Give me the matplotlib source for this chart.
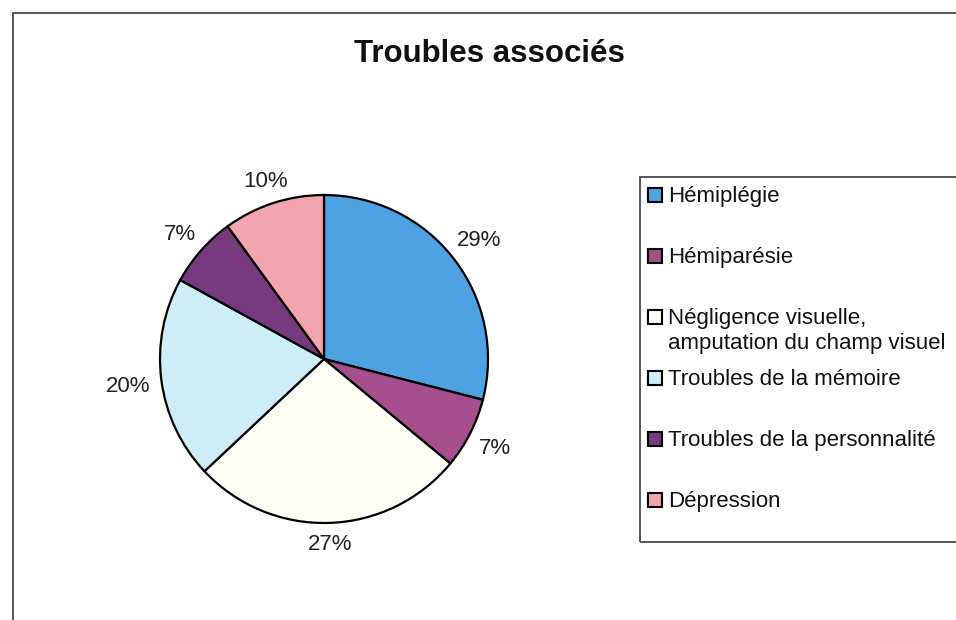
import numpy as np
import matplotlib.pyplot as plt
from matplotlib.patches import Rectangle

categories = ["Hémiplégie", "Hémiparésie",
              "Négligence visuelle,\namputation du champ visuel",
              "Troubles de la mémoire", "Troubles de la personnalité",
              "Dépression"]
values = [29, 7, 27, 20, 7, 10]
colors = ["#4FA2E2", "#A64E8E", "#FFFFF6", "#CDEEF6", "#773A7E", "#F2A5AF"]

plt.rcParams['font.family'] = ['Liberation Sans', 'DejaVu Sans']

W, H = 956, 620
fig = plt.figure(figsize=(W/100, H/100), dpi=100)

def fx(px):
    return px / W

def fy(py):
    return 1 - py / H

# chart frame (cut off on the right and bottom)
fig.patches.append(Rectangle((fx(13), -0.05), 1.1, fy(13) + 0.05,
                             transform=fig.transFigure, fill=False,
                             edgecolor="#555555", linewidth=1.4))

fig.text(fx(489), fy(62), "Troubles associés", ha="center", va="baseline",
         fontsize=22.5, fontweight="bold", color="#111111")

cx, cy, r = 324, 359, 164
ax = fig.add_axes([fx(cx - r), fy(cy + r), 2*r/W, 2*r/H])
wedges, texts, autotexts = ax.pie(values, colors=colors, startangle=90, counterclock=False,
                                  autopct='%.0f%%', pctdistance=1.15,
                                  wedgeprops=dict(edgecolor="black", linewidth=1.6),
                                  textprops=dict(fontsize=16, color="#222222"))
ax.set_xlim(-1, 1)
ax.set_ylim(-1, 1)
ax.set_aspect('equal')

# put labels just outside the rim, like Excel "outside end"
fig.canvas.draw()
rend = fig.canvas.get_renderer()
gap = 10
for w, t in zip(wedges, autotexts):
    ang = np.deg2rad((w.theta1 + w.theta2) / 2)
    ux, uy = np.cos(ang), np.sin(ang)
    bb = t.get_window_extent(rend)
    d = r + gap + bb.width / 2 * abs(ux) + 8.5 * abs(uy)
    t.set_position((ux * d / r, uy * d / r))
    t.set_va("center_baseline")
    t.set_ha("center")

# legend box, drawn like the Excel one (right side runs off the picture)
fig.patches.append(Rectangle((fx(640), fy(542)), 1.0, (542 - 177)/H,
                             transform=fig.transFigure, fill=False,
                             edgecolor="#555555", linewidth=1.4))
for i, (lab, c) in enumerate(zip(categories, colors)):
    y = 194.5 + 61 * i
    fig.patches.append(Rectangle((fx(648), fy(y + 7)), 14/W, 14/H,
                                 transform=fig.transFigure, facecolor=c,
                                 edgecolor="black", linewidth=1.5))
    for j, line in enumerate(lab.split("\n")):
        fig.text(fx(668), fy(y + 7.5 + 25 * j), line, ha="left", va="baseline",
                 fontsize=16, color="#111111")

fig.savefig("out.png", dpi=100)
